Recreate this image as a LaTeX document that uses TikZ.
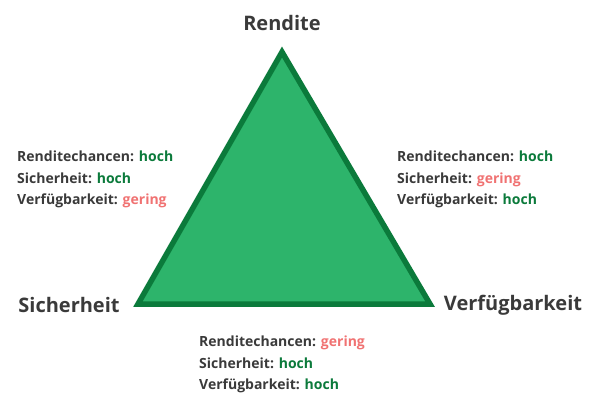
\documentclass[tikz,border=0pt]{standalone}
\usepackage{fontspec}
\setmainfont{Open Sans}
\definecolor{txt}{HTML}{3A3A3A}
\definecolor{hi}{HTML}{0B7A3B}
\definecolor{lo}{HTML}{F07272}
\definecolor{tri}{HTML}{2DB46B}
\begin{document}
\begin{tikzpicture}[x=1pt,y=-1pt,
  big/.style={font=\bfseries\fontsize{20}{22}\selectfont,text=txt},
  info/.style={font=\bfseries\fontsize{14}{21.5}\selectfont,text=txt,align=left,anchor=north west,inner sep=0pt},
  hoch/.style={text=hi},gering/.style={text=lo}]
\useasboundingbox (0,0) rectangle (600,410);
\coordinate (A) at (282,52);
\coordinate (B) at (138,304);
\coordinate (C) at (430,304);
\draw[line width=5.5pt,draw=hi,fill=tri,line join=miter] (A) -- (B) -- (C) -- cycle;
\node[big] (r) at (282,23) {Rendite};
\node[big] (s) at (69,305) {Sicherheit};
\node[big] (v) at (513,305) {Verfügbarkeit};
\node[info] (l) at (17,151) {Renditechancen: \textcolor{hi}{hoch}\\Sicherheit: \textcolor{hi}{hoch}\\Verfügbarkeit: \textcolor{lo}{gering}};
\node[info] (rt) at (397,151) {Renditechancen: \textcolor{hi}{hoch}\\Sicherheit: \textcolor{lo}{gering}\\Verfügbarkeit: \textcolor{hi}{hoch}};
\node[info] (b) at (199,336) {Renditechancen: \textcolor{lo}{gering}\\Sicherheit: \textcolor{hi}{hoch}\\Verfügbarkeit: \textcolor{hi}{hoch}};
\end{tikzpicture}
\end{document}
